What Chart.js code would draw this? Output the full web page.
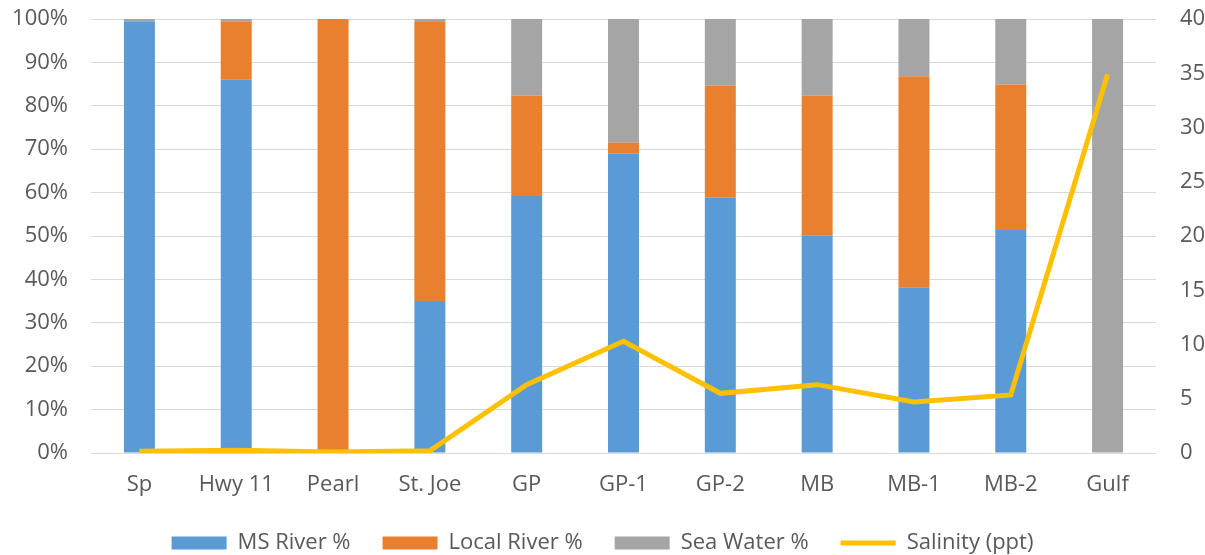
<!DOCTYPE html>
<html>
<head>
<meta charset="utf-8">
<script src="https://cdn.jsdelivr.net/npm/chart.js@4/dist/chart.umd.min.js"></script>
<style>
  html, body { margin: 0; padding: 0; background: #fff; }
  #wrap { width: 1205px; height: 555px; }
</style>
</head>
<body>
<div id="wrap"><canvas id="grafico"></canvas></div>
<script>
const sites = ["Sp", "Hwy 11", "Pearl", "St. Joe", "GP", "GP-1", "GP-2", "MB", "MB-1", "MB-2", "Gulf"];
const msRiver = [99.5, 86, 0, 35, 59.2, 69, 58.8, 50.2, 38.2, 51.4, 0];
const localRiver = [0, 13.5, 100, 64.3, 23.1, 2.5, 25.8, 32.1, 48.6, 33.5, 0];
const seaWater = [0.5, 0.5, 0, 0.7, 17.7, 28.5, 15.4, 17.7, 13.2, 15.1, 100];
const salinity = [0.15, 0.25, 0.1, 0.2, 6.3, 10.3, 5.5, 6.3, 4.7, 5.35, 34.9];

const fonte = { family: "'Open Sans', sans-serif", size: 22 };
const corTexto = "#595959";

const barra = (label, data, cor) => ({
  type: "bar",
  label,
  data,
  backgroundColor: cor,
  borderWidth: 0,
  yAxisID: "y",
  barPercentage: 0.32,
  categoryPercentage: 1,
  order: 2,
  pointStyle: "rect"
});

// the axis labels would push the plot down; the reference plot starts at y=19
const semPadding = w => s => {
  s.width = w;
  s.paddingTop = 0;
  s.paddingBottom = 0;
};

new Chart(document.getElementById("grafico"), {
  data: {
    labels: sites,
    datasets: [
      barra("MS River %", msRiver, "#5B9BD5"),
      barra("Local River %", localRiver, "#E8802F"),
      barra("Sea Water %", seaWater, "#A5A5A5"),
      {
        type: "line",
        label: "Salinity (ppt)",
        data: salinity,
        borderColor: "#FFC000",
        backgroundColor: "#FFC000",
        borderWidth: 5,
        pointRadius: 0,
        tension: 0,
        yAxisID: "y2",
        order: 1,
        pointStyle: "line"
      }
    ]
  },
  options: {
    responsive: true,
    maintainAspectRatio: false,
    animation: false,
    layout: { padding: { top: 19, bottom: -9, left: 0, right: 0 } },
    plugins: {
      tooltip: { enabled: false },
      legend: {
        position: "bottom",
        labels: {
          usePointStyle: true,
          pointStyleWidth: 55,
          boxHeight: 13,
          padding: 32,
          color: corTexto,
          font: fonte,
          sort: (a, b) => a.datasetIndex - b.datasetIndex
        }
      }
    },
    scales: {
      x: {
        stacked: true,
        grid: { display: false },
        border: { display: false },
        ticks: { color: corTexto, font: fonte, padding: 11 },
        afterFit: s => { s.height = 47; }
      },
      y: {
        stacked: true,
        position: "left",
        min: 0,
        max: 100,
        ticks: {
          stepSize: 10,
          color: corTexto,
          font: fonte,
          padding: 23,
          callback: v => v + "%"
        },
        grid: { color: "#D9D9D9", drawTicks: false },
        border: { display: false },
        afterFit: semPadding(91)
      },
      y2: {
        position: "right",
        min: 0,
        max: 40,
        ticks: { stepSize: 5, color: corTexto, font: fonte, padding: 24 },
        grid: { display: false, drawTicks: false },
        border: { display: false },
        afterFit: semPadding(49)
      }
    }
  }
});
</script>
</body>
</html>
